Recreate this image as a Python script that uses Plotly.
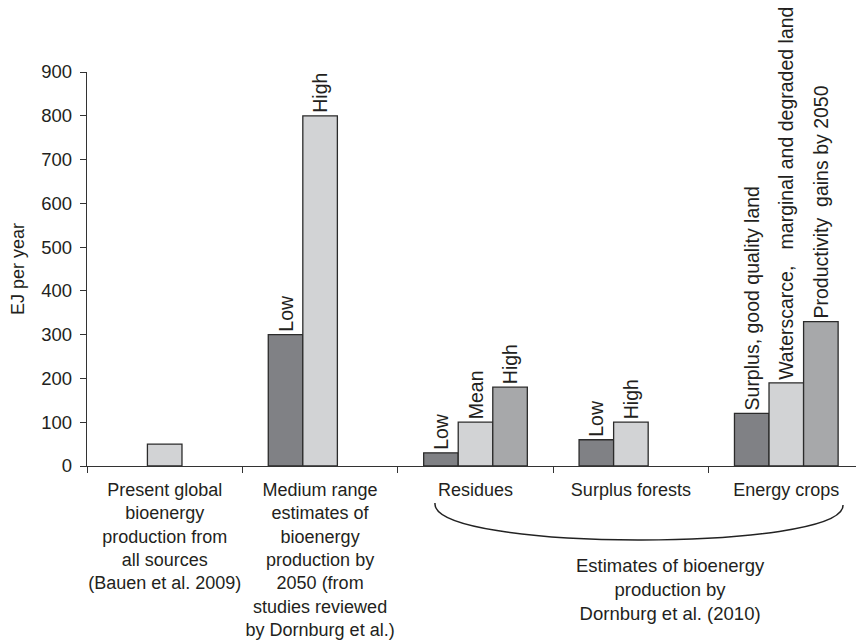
import plotly.graph_objects as go

# ---- data ----
categories = [
    "Present global<br>bioenergy<br>production from<br>all sources<br>(Bauen et al. 2009)",
    "Medium range<br>estimates of<br>bioenergy<br>production by<br>2050 (from<br>studies reviewed<br>by Dornburg et al.)",
    "Residues",
    "Surplus forests",
    "Energy crops",
]
slot1_values = [None, 300, 30, 60, 120]
slot2_values = [50, 800, 100, 100, 190]
slot3_values = [None, None, 180, None, 330]
slot1_labels = ["", "Low", "Low", "Low", "Surplus, good quality land"]
slot2_labels = ["", "High", "Mean", "High", "Waterscarce,\u00a0\u00a0 marginal and degraded land"]
slot3_labels = ["", "", "High", "", "Productivity\u00a0 gains by 2050"]
y_ticks = [0, 100, 200, 300, 400, 500, 600, 700, 800, 900]
y_title = "EJ per year"
group_note = "Estimates of bioenergy<br>production by<br>Dornburg et al. (2010)"

# ---- style ----
W, H = 864, 641
OFF = 8  # page body margin offset
L, R, T, B = 87 - OFF, OFF, 72 - OFF, 641 - 466 + OFF
FONT = "Liberation Sans, Arial, sans-serif"
TXT = "#231f20"
colors = ["#808185", "#d2d3d5", "#a7a8aa"]

def px(xp):
    return (xp - OFF - L) / (W - L - R)

def py(yp):
    return (H - B - (yp - OFF)) / (H - T - B)

fig = go.Figure()
for vals, labs, col in [(slot1_values, slot1_labels, colors[0]),
                        (slot2_values, slot2_labels, colors[1]),
                        (slot3_values, slot3_labels, colors[2])]:
    fig.add_trace(go.Bar(
        x=categories, y=vals, text=labs,
        textposition="outside", textangle=-90, cliponaxis=False,
        constraintext="none",
        textfont=dict(family=FONT, size=19.5, color=TXT),
        marker=dict(color=col, line=dict(color="#2b2b2b", width=1.3)),
        showlegend=False, hoverinfo="x+y",
    ))

# bracket under the Dornburg categories
x0, y0 = px(435), py(503)
x1, y1 = px(843), py(505)
c0x, c0y = px(430), py(552)
c1x, c1y = px(845), py(552)
fig.add_shape(type="path", xref="paper", yref="paper",
              path=f"M {x0},{y0} C {c0x},{c0y} {c1x},{c1y} {x1},{y1}",
              line=dict(color="#222", width=1.5))

fig.add_annotation(xref="paper", yref="paper", x=px(670), y=py(553),
                   xanchor="center", yanchor="top", showarrow=False,
                   text=group_note, align="center",
                   font=dict(family=FONT, size=18.5, color=TXT))

fig.update_layout(
    width=W, height=H,
    margin=dict(l=L, r=R, t=T, b=B, autoexpand=False),
    paper_bgcolor="white", plot_bgcolor="white",
    barmode="group", bargap=0.333, bargroupgap=0,
    font=dict(family=FONT, color=TXT),
    xaxis=dict(
        showline=True, linecolor="#333", linewidth=1.3,
        ticks="outside", ticklen=6, tickcolor="#333", tickwidth=1.2,
        tickson="boundaries", showgrid=False, tickangle=0,
        automargin=False, ticklabelstandoff=7,
        tickfont=dict(family=FONT, size=18, color=TXT),
        fixedrange=True,
    ),
    yaxis=dict(
        range=[0, 900], tickvals=y_ticks,
        showline=True, linecolor="#333", linewidth=1.3,
        ticks="outside", ticklen=6, tickcolor="#333", tickwidth=1.2,
        showgrid=False, zeroline=False, automargin=False,
        ticklabelstandoff=4,
        tickfont=dict(family=FONT, size=18.5, color=TXT),
        title=dict(text=y_title, standoff=14,
                   font=dict(family=FONT, size=18, color=TXT)),
        fixedrange=True,
    ),
)

fig.write_html("out.html")
